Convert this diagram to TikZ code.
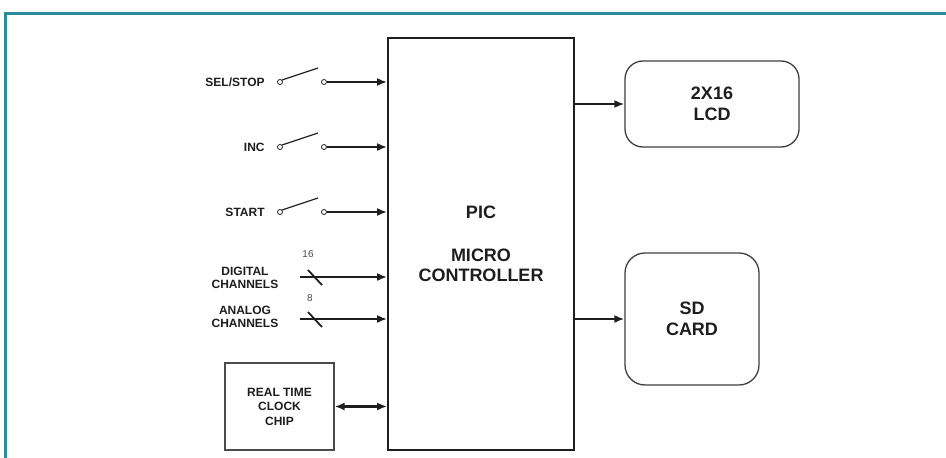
\documentclass[tikz,border=0pt]{standalone}
\usepackage{fontspec}
\setmainfont{Liberation Sans}
\usetikzlibrary{positioning,arrows.meta,calc}
\definecolor{frameteal}{RGB}{42,138,158}
\definecolor{ink}{RGB}{30,30,30}
\tikzset{every picture/.style={>={Latex[length=10pt,width=8pt]},thick}}
\tikzset{picbox/.style={draw=ink,line width=1.8pt,minimum width=186pt,minimum height=412pt,
    align=center,font=\fontsize{18}{20.7}\selectfont\bfseries,text=ink}}
\tikzset{outbox/.style={draw=ink!85,line width=1.3pt,rounded corners=18pt,align=center,
    font=\fontsize{18}{21}\selectfont\bfseries,text=ink}}
\tikzset{rtcbox/.style={draw=ink!80,line width=1.2pt,minimum width=109pt,minimum height=87pt,
    align=center,font=\fontsize{12}{14.5}\selectfont\bfseries,text=ink}}
\tikzset{sidelabel/.style={align=center,inner sep=0pt,font=\fontsize{12}{12.5}\selectfont\bfseries,text=ink}}
\tikzset{contact/.style={circle,draw=ink,line width=0.8pt,inner sep=0pt,minimum size=5pt}}
\tikzset{signal/.style={->,ink,line width=2.6pt}}
\tikzset{lever/.style={ink,line width=1.2pt}}
\tikzset{buswidth/.style={inner sep=0pt,font=\fontsize{10}{12}\selectfont,text=ink!80}}

\begin{document}
\begin{tikzpicture}[x=1pt,y=-1pt]
      \useasboundingbox (0,0) rectangle (946,458);
      \fill[white] (0,0) rectangle (946,458);
      \draw[frameteal,line width=3pt] (5,458) -- (5,13) -- (946,13);
      % main blocks
      \node[picbox] (pic) at (481,244) {PIC\\[22pt]MICRO\\CONTROLLER};
      \node[outbox,minimum width=174pt,minimum height=86pt] (lcd) at (712,104) {2X16\\LCD};
      \node[outbox,minimum width=134pt,minimum height=132pt,rounded corners=20pt] (sd) at (692,319) {SD\\CARD};
      \node[rtcbox] (rtc) at (279.5,406.5) {REAL TIME\\CLOCK\\CHIP};
      % switches
      \node[sidelabel,anchor=east] (sellab) at (265,82) {SEL/STOP};
      \node[contact] (sela) at (280,82) {};
      \node[contact] (selb) at (324,82) {};
      \coordinate (selt) at (318,68);
      \node[sidelabel,anchor=east] (inclab) at (265,147) {INC};
      \node[contact] (inca) at (280,147) {};
      \node[contact] (incb) at (324,147) {};
      \coordinate (inct) at (318,133);
      \node[sidelabel,anchor=east] (stalab) at (265,212) {START};
      \node[contact] (staa) at (280,212) {};
      \node[contact] (stab) at (324,212) {};
      \coordinate (stat) at (318,198);
      \draw[lever] (sela.north east) -- (selt);
      \draw[lever] (inca.north east) -- (inct);
      \draw[lever] (staa.north east) -- (stat);
      \draw[signal] (selb) -- (selb -| pic.west);
      \draw[signal] (incb) -- (incb -| pic.west);
      \draw[signal] (stab) -- (stab -| pic.west);
      % channel buses
      \node[sidelabel] (diglab) at (245,278) {DIGITAL\\CHANNELS};
      \coordinate (digin) at (300,277);
      \node[buswidth] (dign) at (308,254) {16};
      \draw[signal] (digin) -- (digin -| pic.west);
      \draw[lever,line width=1.8pt] (308,270) -- (322,285);
      \node[sidelabel] (analab) at (245,317) {ANALOG\\CHANNELS};
      \coordinate (anain) at (300,319);
      \node[buswidth] (anan) at (310,298) {8};
      \draw[signal] (anain) -- (anain -| pic.west);
      \draw[lever,line width=1.8pt] (308,312) -- (322,327);
      % outputs
      \draw[signal] (pic.east |- lcd.west) -- (lcd.west);
      \draw[signal] (pic.east |- sd.west) -- (sd.west);
      \draw[signal,<->] (rtc.east) -- (rtc.east -| pic.west);
\end{tikzpicture}
\end{document}
